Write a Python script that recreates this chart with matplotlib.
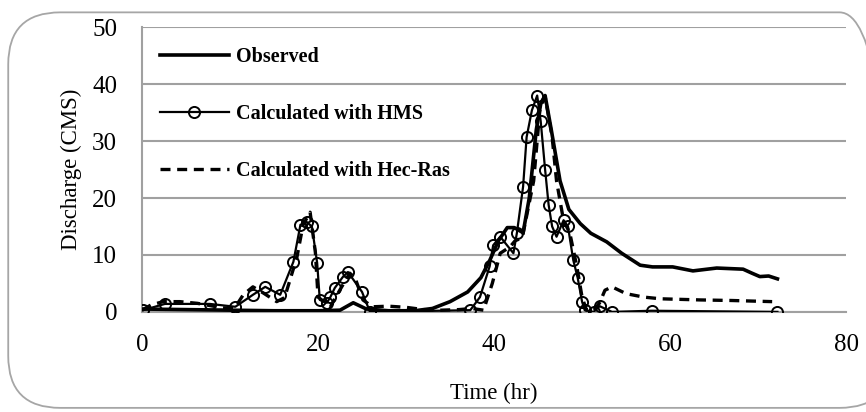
import numpy as np
import matplotlib.pyplot as plt
from matplotlib.patches import FancyBboxPatch

# ---------------------------------------------------------
# Data read off the reference hydrograph
# ---------------------------------------------------------
obs_t = [0, 5, 10, 15, 20, 22.5, 24, 25.5, 28, 31, 33, 35, 37, 38.5, 39.5, 40.5, 41.5, 42.3, 43.3,
         44, 44.8, 45.3, 45.8, 46.5, 47.5, 48.5, 49.8, 51, 52.8, 54.5, 56.6, 58, 60.3, 62.6,
         65.3, 68.3, 69.3, 70.2, 71.2, 72.2]
obs_q = [0.5, 0.4, 0.3, 0.2, 0.2, 0.3, 1.6, 0.5, 0.2, 0.2, 0.6, 1.8, 3.5, 6.0, 9.0, 12.5, 14.8, 14.8, 13.9,
         20, 32, 36.5, 38, 32, 23, 18, 15.5, 13.8, 12.3, 10.3, 8.2, 7.9, 7.9, 7.2,
         7.7, 7.5, 6.8, 6.2, 6.3, 5.8]

hms_t = [0.1, 2.6, 7.7, 10.6, 12.6, 14.0, 15.7, 17.2, 18.0, 18.7, 19.3, 19.9, 20.2, 21.0, 21.4, 21.9,
         22.8, 23.4, 25.0, 25.9, 37.3, 38.4, 39.5, 39.9, 40.7, 42.2, 42.6, 43.3, 43.7, 44.3, 44.9,
         45.3, 45.8, 46.2, 46.6, 47.1, 47.9, 48.4, 49.0, 49.5, 50.0, 50.3, 51.3, 52.0, 53.4, 57.9, 72.2]
hms_q = [0.3, 1.4, 1.4, 0.9, 3.0, 4.4, 3.0, 8.8, 15.3, 15.8, 15.0, 8.6, 2.1, 1.6, 2.6, 4.2,
         6.1, 7.0, 3.5, 0.0, 0.3, 2.6, 8.0, 11.7, 13.2, 10.3, 13.9, 22.0, 30.7, 35.4, 38.0,
         33.5, 25.0, 18.8, 15.0, 13.2, 16.1, 15.0, 9.1, 6.0, 1.8, 0.3, 0.0, 1.0, 0.0, 0.2, 0.0]

ras_t = [0, 1, 2.4, 4.3, 6.3, 9.2, 10.5, 11.5, 12.6, 13.8, 15.3, 16.2, 17.6, 18.3, 19.1, 19.7, 20.0,
         21.4, 22.5, 23.6, 24.2, 25.1, 26.2, 28, 30, 32, 34, 36, 37.5, 38.8, 39.8, 40.7, 41.8,
         42.4, 43.2, 44.5, 45.2, 45.8, 46.6, 47.1, 47.9, 48.6, 49.4, 50.0, 50.5, 51.3, 52.0,
         52.6, 53.4, 55, 57.0, 58.9, 63.4, 67, 71.6]
ras_q = [0.3, 1.2, 1.8, 1.8, 1.5, 0.7, 0.6, 3.0, 4.4, 3.3, 1.8, 2.5, 9.6, 15.3, 17.5, 10.4, 2.6,
         0.9, 3.9, 6.8, 6.0, 2.1, 0.9, 1.0, 0.8, 0.4, 0.3, 0.4, 0.6, 0.3, 5.0, 10.3, 11.4,
         12.5, 13.0, 23.0, 35.4, 37.8, 30.7, 23.0, 16.0, 13.9, 8.0, 2.6, 0.3, 0.2, 1.6,
         3.8, 4.4, 3.2, 2.6, 2.3, 2.1, 2.0, 1.8]

x_ticks = [0, 20, 40, 60, 80]
y_ticks = [0, 10, 20, 30, 40, 50]

# ---------------------------------------------------------
# Plot
# ---------------------------------------------------------
plt.rcParams['font.family'] = ['Liberation Serif', 'DejaVu Serif']

fig = plt.figure(figsize=(8.66, 4.12), dpi=100)
ax = fig.add_axes([0.164, 0.243, 0.813, 0.691])

# rounded chart-area border
frame = FancyBboxPatch((0.0095, 0.01), 1.02, 0.96, boxstyle="round,pad=0,rounding_size=0.06",
                       transform=fig.transFigure, facecolor='none', edgecolor='#a6a6a6',
                       linewidth=1.3, mutation_aspect=866 / 412, clip_on=False)
fig.patches.append(frame)

ax.plot(obs_t, obs_q, color='black', lw=2.6, label='Observed', zorder=3)
ax.plot(hms_t, hms_q, color='black', lw=1.6, marker='o', markersize=8, markerfacecolor='none',
        markeredgewidth=1.4, label='Calculated with HMS', zorder=4)
ax.plot(ras_t, ras_q, color='black', lw=2.4, ls=(0, (3, 2)), label='Calculated with Hec-Ras', zorder=3)

ax.set_xlim(0, 80)
ax.set_ylim(0, 50)
ax.set_xticks(x_ticks)
ax.set_yticks(y_ticks)
ax.tick_params(length=0, labelsize=18, pad=18)
ax.tick_params(axis='x', pad=16)
ax.grid(axis='y', color='#a0a0a0', lw=1.5, zorder=0)
ax.set_axisbelow(True)
for s in ['top', 'right']:
    ax.spines[s].set_visible(False)
ax.spines['left'].set_color('#a0a0a0')
ax.spines['bottom'].set_color('#a0a0a0')
ax.spines['left'].set_linewidth(1.5)
ax.spines['bottom'].set_linewidth(1.5)

ax.set_xlabel('Time (hr)', fontsize=16.5, labelpad=19)
ax.set_ylabel('Discharge (CMS)', fontsize=16.5, labelpad=7)

ax.legend(loc='upper left', frameon=False, prop={'weight': 'bold', 'size': 14.5},
          handlelength=3.4, handletextpad=0.35, labelspacing=1.85,
          bbox_to_anchor=(0.0, 0.995))

fig.savefig('out.png', dpi=100)
